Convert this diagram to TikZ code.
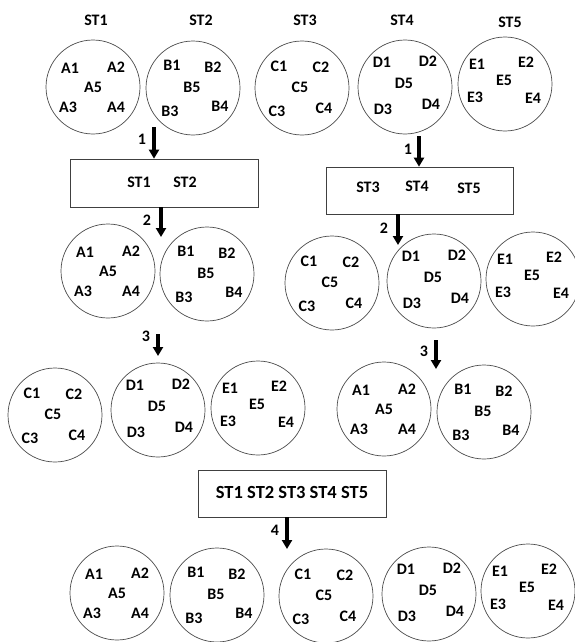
\documentclass[tikz,border=0pt]{standalone}
\usepackage{fontspec}
\setmainfont{Carlito}
\usetikzlibrary{arrows.meta}
\tikzset{
  circ/.style={circle, draw=black!70, line width=0.7pt, minimum size=94pt, inner sep=0pt},
  lbl/.style={font=\bfseries\fontsize{16}{18}\selectfont, inner sep=0pt},
  head/.style={font=\bfseries\fontsize{16}{18}\selectfont, inner sep=0pt},
  boxst/.style={draw=black!75, line width=0.7pt, inner sep=0pt},
  arr/.style={line width=3.5pt, -{Triangle[width=10pt,length=9pt]}},
  num/.style={font=\bfseries\fontsize{16}{18}\selectfont, inner sep=0pt}
}
\newcommand{\offA}[1]{%
  \node[lbl] (#1-1) at (-23,-19) {A1}; \node[lbl] (#1-2) at (23,-20) {A2};
  \node[lbl] (#1-5) at (0,0) {A5}; \node[lbl] (#1-3) at (-25,20) {A3};
  \node[lbl] (#1-4) at (23,20) {A4};}
\newcommand{\offB}[1]{%
  \node[lbl] (#1-1) at (-21,-23) {B1}; \node[lbl] (#1-2) at (20,-21) {B2};
  \node[lbl] (#1-5) at (-1,-1) {B5}; \node[lbl] (#1-3) at (-23,23) {B3};
  \node[lbl] (#1-4) at (27,18) {B4};}
\newcommand{\offC}[1]{%
  \node[lbl] (#1-1) at (-23,-22) {C1}; \node[lbl] (#1-2) at (19,-21) {C2};
  \node[lbl] (#1-5) at (-2,-1) {C5}; \node[lbl] (#1-3) at (-25,23) {C3};
  \node[lbl] (#1-4) at (22,20) {C4};}
\newcommand{\offD}[1]{%
  \node[lbl] (#1-1) at (-23,-25) {D1}; \node[lbl] (#1-2) at (23,-26) {D2};
  \node[lbl] (#1-5) at (-1,-4) {D5}; \node[lbl] (#1-3) at (-22,22) {D3};
  \node[lbl] (#1-4) at (26,17) {D4};}
\newcommand{\offE}[1]{%
  \node[lbl] (#1-1) at (-28,-20) {E1}; \node[lbl] (#1-2) at (21,-22) {E2};
  \node[lbl] (#1-5) at (-1,-4) {E5}; \node[lbl] (#1-3) at (-30,13) {E3};
  \node[lbl] (#1-4) at (28,14) {E4};}
\newcommand{\grp}[4]{%
  \node[circ] (#1) at (#3,#4) {};
  \begin{scope}[shift={(#3,#4)}]
    \csname off#2\endcsname{#1}
  \end{scope}}
\begin{document}
\begin{tikzpicture}[x=1pt,y=-1pt]
\useasboundingbox (0,0) rectangle (575,642);
\begin{scope}
\clip (0,0) rectangle (575,642);
% Row 1
\node[head] (st1) at (96,20) {ST1};
\node[head] (st2) at (201,20) {ST2};
\node[head] (st3) at (305,20) {ST3};
\node[head] (st4) at (402,20) {ST4};
\node[head] (st5) at (510,22) {ST5};
\grp{a0}{A}{93}{87}
\grp{b0}{B}{193}{88}
\grp{c0}{C}{302}{88}
\grp{d0}{D}{405}{87}
\grp{e0}{E}{505}{84}
% Left branch
\node[boxst, minimum width=188pt, minimum height=48pt] (box1) at (164,183) {};
\node[lbl] (box1a) at (139,182) {ST1};
\node[lbl] (box1b) at (185,182) {ST2};
\coordinate (l1s) at (154,127);
\draw[arr] (l1s) -- (l1s |- box1.north);
\node[num] (n1l) at (142,139) {1};
\coordinate (l2e) at (161,237);
\draw[arr] (box1.south -| l2e) -- (l2e);
\node[num] (n2l) at (147,220) {2};
\grp{a1}{A}{108}{271}
\grp{b1}{B}{207}{274}
\coordinate (l3s) at (158,334);
\coordinate (l3e) at (158,356);
\draw[arr] (l3s) -- (l3e);
\node[num] (n3l) at (146,336) {3};
\grp{c1}{C}{55}{415}
\grp{d1}{D}{158}{410}
\grp{e1}{E}{258}{408}
% Right branch
\node[boxst, minimum width=187pt, minimum height=47pt] (box2) at (419.5,190.5) {};
\node[lbl] (box2a) at (368,187) {ST3};
\node[lbl] (box2b) at (417,186) {ST4};
\node[lbl] (box2c) at (469,188) {ST5};
\coordinate (r1s) at (419,136);
\draw[arr] (r1s) -- (r1s |- box2.north);
\node[num] (n1r) at (408,149) {1};
\coordinate (r2e) at (398,245);
\draw[arr] (box2.south -| r2e) -- (r2e);
\node[num] (n2r) at (384,228) {2};
\grp{c2}{C}{332}{283}
\grp{d2}{D}{434}{281}
\grp{e2}{E}{533}{279}
\coordinate (r3s) at (436,340);
\coordinate (r3e) at (436,369);
\draw[arr] (r3s) -- (r3e);
\node[num] (n3r) at (424,351) {3};
\grp{a2}{A}{384}{409}
\grp{b2}{B}{484}{412}
% Bottom
\node[boxst, minimum width=188pt, minimum height=47pt] (box3) at (292,493.5) {};
\node[lbl, font=\bfseries\fontsize{18.5}{20}\selectfont] (box3t) at (292,492) {ST1 ST2 ST3 ST4 ST5};
\coordinate (b4e) at (287,549);
\draw[arr] (box3.south -| b4e) -- (b4e);
\node[num] (n4) at (275,530) {4};
\grp{a3}{A}{117}{593}
\grp{b3}{B}{217}{595}
\grp{c3}{C}{326}{596}
\grp{d3}{D}{429}{594}
\grp{e3}{E}{528}{591}
\end{scope}
\end{tikzpicture}
\end{document}
